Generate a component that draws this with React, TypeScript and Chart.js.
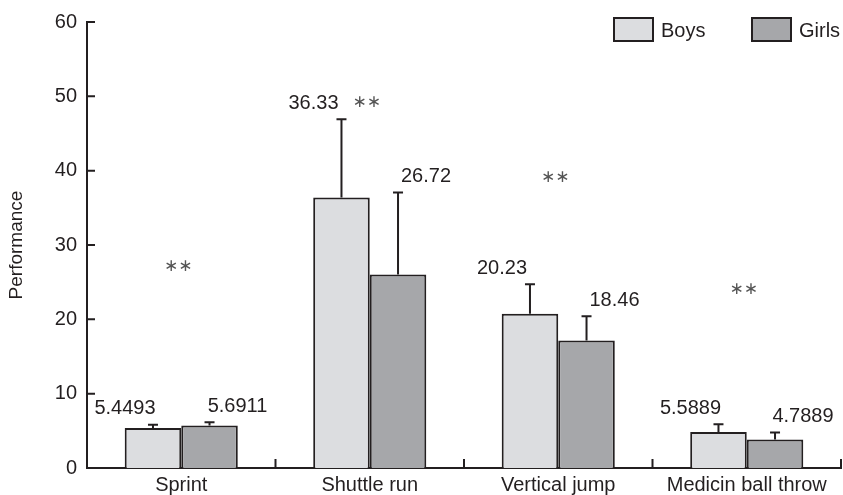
import React, { useEffect, useRef } from "react";
import { Chart, registerables } from "chart.js";

Chart.register(...registerables);

const categories = ["Sprint", "Shuttle run", "Vertical jump", "Medicin ball throw"];
const boysMeans = [5.37, 36.4, 20.76, 4.84];
const girlsMeans = [5.73, 26.04, 17.16, 3.83];
const boysSD = [0.46, 10.53, 3.95, 1.03];
const girlsSD = [0.44, 11.03, 3.24, 0.93];
const boysLabels = ["5.4493", "36.33", "20.23", "5.5889"];
const girlsLabels = ["5.6911", "26.72", "18.46", "4.7889"];
const starLevels = [27.1, 49.2, 39.1, 24.0];
const yMin = 0;
const yMax = 60;
const yStep = 10;

const INK = "#231f20";
const BOYS_FILL = "#dcdde0";
const GIRLS_FILL = "#a6a7aa";
const FONT = "'Liberation Sans', Arial, Helvetica, sans-serif";

const overlayPlugin = {
  id: "overlay",
  afterDatasetsDraw(chart: any) {
    const ctx = chart.ctx;
    const xs = chart.scales.x;
    const ys = chart.scales.y;
    const area = chart.chartArea;
    const sds = [boysSD, girlsSD];
    const means = [boysMeans, girlsMeans];
    const labels = [boysLabels, girlsLabels];
    ctx.save();
    ctx.strokeStyle = INK;
    ctx.fillStyle = INK;
    ctx.lineWidth = 2;
    // error bars and value labels
    for (let d = 0; d < 2; d++) {
      const meta = chart.getDatasetMeta(d);
      meta.data.forEach((el: any, j: number) => {
        const top = ys.getPixelForValue(means[d][j] + sds[d][j]);
        ctx.beginPath();
        ctx.moveTo(el.x, el.y);
        ctx.lineTo(el.x, top);
        ctx.moveTo(el.x - 5, top);
        ctx.lineTo(el.x + 5, top);
        ctx.stroke();
        ctx.font = `20px ${FONT}`;
        ctx.textAlign = "center";
        ctx.textBaseline = "middle";
        const lx = d === 0 ? el.x - 28 : el.x + 28;
        ctx.fillText(labels[d][j], lx, top - 16);
      });
    }
    // significance stars
    ctx.font = `17px 'DejaVu Sans', sans-serif`;
    ctx.textAlign = "center";
    ctx.textBaseline = "middle";
    ctx.fillStyle = "#555";
    starLevels.forEach((v, j) => {
      ctx.fillText("\u2217\u2217", xs.getPixelForValue(j) - 3, ys.getPixelForValue(v));
    });
    // inward ticks
    ctx.strokeStyle = INK;
    ctx.lineWidth = 2;
    ctx.beginPath();
    for (let v = yMin; v <= yMax; v += yStep) {
      const py = ys.getPixelForValue(v);
      ctx.moveTo(area.left, py);
      ctx.lineTo(area.left + 8, py);
    }
    for (let j = 0; j < categories.length; j++) {
      const bx =
        j < categories.length - 1
          ? (xs.getPixelForValue(j) + xs.getPixelForValue(j + 1)) / 2
          : area.right;
      ctx.moveTo(bx, area.bottom);
      ctx.lineTo(bx, area.bottom - 9);
    }
    ctx.stroke();
    ctx.restore();
  },
  afterDraw(chart: any) {
    const ctx = chart.ctx;
    const area = chart.chartArea;
    const items = [
      { text: chart.data.datasets[0].label, fill: BOYS_FILL, x: area.right - 227 },
      { text: chart.data.datasets[1].label, fill: GIRLS_FILL, x: area.right - 89 },
    ];
    ctx.save();
    ctx.font = `20px ${FONT}`;
    ctx.textAlign = "left";
    ctx.textBaseline = "middle";
    items.forEach((it) => {
      ctx.fillStyle = it.fill;
      ctx.fillRect(it.x, 18, 39, 23);
      ctx.strokeStyle = INK;
      ctx.lineWidth = 2;
      ctx.strokeRect(it.x, 18, 39, 23);
      ctx.fillStyle = INK;
      ctx.fillText(it.text, it.x + 47, 31);
    });
    ctx.restore();
  },
};

export default function App() {
  const ref = useRef<HTMLCanvasElement>(null);
  useEffect(() => {
    if (!ref.current) return;
    const chart = new Chart(ref.current, {
      type: "bar",
      data: {
        labels: categories,
        datasets: [
          {
            label: "Boys",
            data: boysMeans,
            backgroundColor: BOYS_FILL,
            borderColor: INK,
            borderWidth: 2,
            categoryPercentage: 0.6,
            barPercentage: 1,
          },
          {
            label: "Girls",
            data: girlsMeans,
            backgroundColor: GIRLS_FILL,
            borderColor: INK,
            borderWidth: 2,
            categoryPercentage: 0.6,
            barPercentage: 1,
          },
        ],
      },
      options: {
        responsive: false,
        animation: false,
        layout: { padding: { left: 0, right: 2, top: 18, bottom: 0 } },
        plugins: {
          legend: { display: false },
          tooltip: { enabled: false },
        },
        scales: {
          x: {
            type: "category",
            offset: true,
            grid: { display: false, drawTicks: false },
            border: { display: true, color: INK, width: 2 },
            ticks: {
              color: INK,
              font: { family: FONT, size: 20 },
              padding: 5,
              maxRotation: 0,
              autoSkip: false,
            },
            afterFit: (s: any) => {
              s.height = 27;
            },
          },
          y: {
            min: yMin,
            max: yMax,
            grid: { display: false, drawTicks: false },
            border: { display: true, color: INK, width: 2 },
            ticks: {
              stepSize: yStep,
              color: INK,
              font: { family: FONT, size: 20 },
              padding: 10,
            },
            title: {
              display: true,
              text: "Performance",
              color: INK,
              font: { family: FONT, size: 19 },
              padding: { top: 5, bottom: 4 },
            },
            afterFit: (s: any) => {
              s.width = 87;
            },
          },
        },
      },
      plugins: [overlayPlugin],
    });
    return () => chart.destroy();
  }, []);
  return (
    <div style={{ position: "fixed", left: 0, top: 0, width: 843, height: 495, background: "#fff" }}>
      <canvas ref={ref} width={843} height={495} />
    </div>
  );
}
